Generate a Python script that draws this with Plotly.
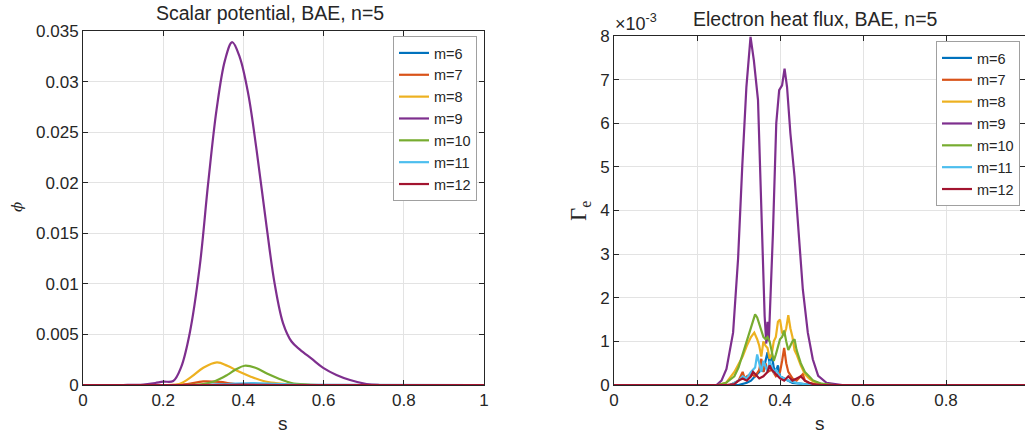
import plotly.graph_objects as go

# ---------------- data: left panel (scalar potential) ----------------
s9 = [0, 0.10, 0.15, 0.18, 0.20, 0.225, 0.245, 0.266, 0.291, 0.312, 0.333, 0.354, 0.372, 0.391,
      0.412, 0.433, 0.458, 0.478, 0.499, 0.52, 0.541, 0.57, 0.599, 0.632, 0.666, 0.707, 0.74, 1.0]
phi9 = [0, 0, 0.00005, 0.0002, 0.00033, 0.0004, 0.0018, 0.0051, 0.0117, 0.0199, 0.0272, 0.0321,
        0.0339, 0.0324, 0.0288, 0.0232, 0.0156, 0.0100, 0.0061, 0.0043, 0.0035, 0.0026, 0.0017,
        0.0010, 0.0005, 0.0001, 0, 0]
s8 = [0, 0.21, 0.24, 0.27, 0.30, 0.334, 0.36, 0.39, 0.42, 0.45, 0.48, 0.52, 0.56, 1.0]
phi8 = [0, 0, 0.0001, 0.0008, 0.0017, 0.00223, 0.0019, 0.0013, 0.0008, 0.0004, 0.0002, 0.00005, 0, 0]
s10 = [0, 0.26, 0.30, 0.33, 0.36, 0.38, 0.403, 0.43, 0.46, 0.49, 0.52, 0.56, 0.60, 1.0]
phi10 = [0, 0, 0.0001, 0.0004, 0.0010, 0.0015, 0.0019, 0.0017, 0.0011, 0.0006, 0.0002, 0.00005, 0, 0]
s7 = [0, 0.22, 0.26, 0.30, 0.34, 0.38, 0.42, 1.0]
phi7 = [0, 0, 0.0001, 0.00035, 0.0003, 0.0001, 0.00002, 0]
s11 = [0, 0.30, 0.36, 0.42, 0.48, 0.54, 1.0]
phi11 = [0, 0, 0.0001, 0.0002, 0.00012, 0.00002, 0]
s6 = [0, 0.30, 0.38, 0.45, 0.52, 1.0]
phi6 = [0, 0, 0.00008, 0.00006, 0.00001, 0]
s12 = [0, 0.30, 0.40, 0.50, 1.0]
phi12 = [0, 0, 0.00003, 0, 0]

# ---------------- data: right panel (electron heat flux, x 1e-3) ----------------
f9s = [0, 0.23, 0.247, 0.259, 0.271, 0.287, 0.299, 0.309, 0.319, 0.329, 0.337, 0.347, 0.355, 0.363,
       0.367, 0.370, 0.373, 0.383, 0.391, 0.398, 0.405, 0.411, 0.417, 0.425, 0.435, 0.446, 0.455,
       0.467, 0.479, 0.492, 0.512, 0.55, 1.0]
f9 = [0, 0, 0.0, 0.1, 0.37, 1.2, 2.9, 5.0, 6.83, 7.98, 7.44, 6.53, 4.25, 1.58,
      0.95, 1.45, 1.0, 3.49, 6.0, 6.76, 6.87, 7.25, 6.83, 5.77, 4.78, 3.33, 2.19,
      1.2, 0.59, 0.21, 0.05, 0, 0]
f8s = [0, 0.25, 0.27, 0.29, 0.31, 0.32, 0.33, 0.338, 0.345, 0.35, 0.355, 0.36, 0.365, 0.37, 0.375,
       0.38, 0.385, 0.39, 0.395, 0.40, 0.405, 0.41, 0.415, 0.42, 0.425, 0.43, 0.435, 0.44, 0.45,
       0.46, 0.47, 0.48, 0.50, 0.53, 1.0]
f8 = [0, 0, 0.05, 0.3, 0.65, 0.9, 1.1, 1.2, 1.05, 0.9, 0.65, 1.0, 0.9, 0.85, 0.6,
      0.7, 1.0, 1.1, 1.45, 1.5, 1.2, 1.15, 1.3, 1.6, 1.3, 1.1, 0.8, 0.7, 0.45,
      0.25, 0.15, 0.08, 0.02, 0, 0]
f10s = [0, 0.25, 0.27, 0.29, 0.30, 0.31, 0.32, 0.33, 0.34, 0.345, 0.35, 0.355, 0.36, 0.365, 0.37,
        0.375, 0.38, 0.385, 0.39, 0.395, 0.40, 0.405, 0.41, 0.415, 0.42, 0.425, 0.43, 0.435, 0.44,
        0.45, 0.46, 0.47, 0.48, 0.50, 0.53, 1.0]
f10 = [0, 0, 0.05, 0.2, 0.4, 0.7, 1.05, 1.35, 1.62, 1.55, 1.4, 1.3, 1.1, 1.05, 1.1,
       1.0, 0.75, 0.55, 0.7, 0.9, 1.05, 1.1, 1.25, 1.0, 0.8, 0.9, 1.0, 1.05, 0.8,
       0.5, 0.3, 0.2, 0.1, 0.03, 0, 0]
f6s = [0, 0.30, 0.32, 0.33, 0.34, 0.35, 0.355, 0.36, 0.365, 0.37, 0.375, 0.38, 0.385, 0.39, 0.395,
       0.40, 0.41, 0.42, 0.43, 0.46, 0.49, 1.0]
f6 = [0, 0, 0.05, 0.1, 0.2, 0.3, 0.5, 0.3, 0.55, 0.75, 0.5, 0.7, 0.4, 0.3, 0.45,
      0.2, 0.15, 0.1, 0.05, 0.02, 0, 0]
f7s = [0, 0.28, 0.30, 0.31, 0.315, 0.32, 0.33, 0.34, 0.35, 0.355, 0.36, 0.365, 0.37, 0.38, 0.39,
       0.40, 0.405, 0.41, 0.415, 0.42, 0.43, 0.44, 0.455, 0.46, 0.47, 0.49, 1.0]
f7 = [0, 0, 0.1, 0.3, 0.15, 0.2, 0.25, 0.2, 0.35, 0.6, 0.3, 0.5, 0.3, 0.35, 0.2,
      0.3, 0.55, 0.85, 0.5, 0.3, 0.15, 0.1, 0.25, 0.1, 0.05, 0, 0]
f11s = [0, 0.28, 0.30, 0.31, 0.32, 0.33, 0.34, 0.345, 0.35, 0.355, 0.36, 0.365, 0.37, 0.375, 0.38,
        0.385, 0.39, 0.40, 0.41, 0.42, 0.44, 0.47, 1.0]
f11 = [0, 0, 0.1, 0.2, 0.15, 0.3, 0.4, 0.7, 0.5, 0.3, 0.55, 0.4, 0.3, 0.55, 0.4,
       0.3, 0.35, 0.2, 0.15, 0.1, 0.05, 0, 0]
f12s = [0, 0.27, 0.29, 0.30, 0.31, 0.32, 0.33, 0.335, 0.34, 0.35, 0.36, 0.37, 0.375, 0.38, 0.39,
        0.40, 0.41, 0.42, 0.43, 0.44, 0.45, 0.46, 0.47, 0.48, 0.50, 1.0]
f12 = [0, 0, 0.02, 0.1, 0.15, 0.1, 0.2, 0.3, 0.25, 0.15, 0.2, 0.3, 0.45, 0.35, 0.25,
       0.15, 0.1, 0.2, 0.1, 0.15, 0.2, 0.1, 0.05, 0.02, 0, 0]

names = ["m=6", "m=7", "m=8", "m=9", "m=10", "m=11", "m=12"]
colors = ["#0072BD", "#D95319", "#EDB120", "#7E2F8E", "#77AC30", "#4DBEEE", "#A2142F"]
left_series = [(s6, phi6), (s7, phi7), (s8, phi8), (s9, phi9), (s10, phi10), (s11, phi11), (s12, phi12)]
right_series = [(f6s, f6), (f7s, f7), (f8s, f8), (f9s, f9), (f10s, f10), (f11s, f11), (f12s, f12)]

left_yticks = [0, 0.005, 0.01, 0.015, 0.02, 0.025, 0.03, 0.035]
left_yticktext = ["0", "0.005", "0.01", "0.015", "0.02", "0.025", "0.03", "0.035"]
xticks = [0, 0.2, 0.4, 0.6, 0.8, 1]
xticktext = ["0", "0.2", "0.4", "0.6", "0.8", "1"]
right_yticks = [0, 1, 2, 3, 4, 5, 6, 7, 8]

FONT = "Liberation Sans, Arial, sans-serif"
W, H = 1025, 436
PT, PB = 31, 385  # plot top / bottom pixel rows

fig = go.Figure()
for (x, y), n, c in zip(left_series, names, colors):
    fig.add_trace(go.Scatter(x=x, y=y, mode="lines", name=n, line=dict(color=c, width=2.2),
                             xaxis="x", yaxis="y", legend="legend", line_shape="spline"))
for (x, y), n, c in zip(right_series, names, colors):
    fig.add_trace(go.Scatter(x=x, y=y, mode="lines", name=n, line=dict(color=c, width=2.2),
                             xaxis="x2", yaxis="y2", legend="legend2"))

axis_common = dict(showline=True, linecolor="#262626", linewidth=1, mirror="ticks",
                   ticks="inside", ticklen=5, tickcolor="#262626", showgrid=True,
                   gridcolor="#e3e3e3", gridwidth=1, zeroline=False, automargin=False,
                   tickfont=dict(family=FONT, size=17, color="#262626"))

def px_x(p):
    return p / W

def px_y(p):
    return (PB - p) / (PB - PT)

legend_common = dict(xanchor="right", yanchor="top", bgcolor="white", bordercolor="#a0a0a0",
                     borderwidth=1, font=dict(family=FONT, size=14.5, color="#262626"),
                     tracegroupgap=0, itemwidth=30)

fig.update_layout(
    width=W, height=H, paper_bgcolor="white", plot_bgcolor="white",
    margin=dict(l=0, r=0, t=PT, b=H - PB, autoexpand=False),
    showlegend=True,
    xaxis=dict(domain=[px_x(83), px_x(484)], range=[0, 1], tickvals=xticks, ticktext=xticktext,
               anchor="y", **axis_common),
    yaxis=dict(domain=[0, 1], range=[0, 0.035], tickvals=left_yticks, ticktext=left_yticktext,
               anchor="x", **axis_common),
    xaxis2=dict(domain=[px_x(614), 1], range=[0, (W - 614) / 415], tickvals=xticks,
                ticktext=xticktext, anchor="y2", **axis_common),
    yaxis2=dict(domain=[0, px_y(36)], range=[0, 8], tickvals=right_yticks, anchor="x2",
                **axis_common),
    legend=dict(x=px_x(477), y=px_y(36), **legend_common),
    legend2=dict(x=px_x(1020), y=px_y(41), **legend_common),
)

ann = [
    dict(text="Scalar potential, BAE, n=5", x=px_x(270), y=px_y(13), font=dict(size=19.5)),
    dict(text="Electron heat flux, BAE, n=5", x=px_x(815), y=px_y(19), font=dict(size=19.5)),
    dict(text="s", x=px_x(283), y=px_y(423), font=dict(size=19)),
    dict(text="s", x=px_x(820), y=px_y(423), font=dict(size=19)),
    dict(text="<i>ϕ</i>", x=px_x(17), y=px_y(207), textangle=-90,
         font=dict(size=15, family="DejaVu Serif, serif")),
    dict(text="Γ<sub>e</sub>", x=px_x(580), y=px_y(211), textangle=-90,
         font=dict(size=23, family="Liberation Serif, serif")),
    dict(text="×10<sup>-3</sup>", x=px_x(613), y=px_y(22), xanchor="left",
         font=dict(size=18)),
]
for a in ann:
    f = dict(family=FONT, color="#262626")
    f.update(a.pop("font"))
    fig.add_annotation(xref="paper", yref="paper", showarrow=False, font=f,
                       **({"xanchor": "center", "yanchor": "middle"} | a))

fig.write_html("out.html", config={"displayModeBar": False},
               post_script="document.body.style.margin='0';document.body.style.overflow='hidden';")
